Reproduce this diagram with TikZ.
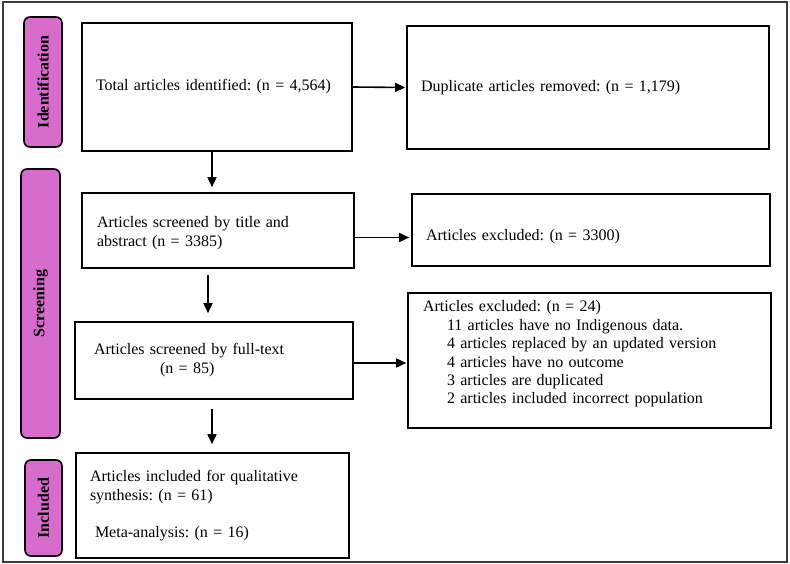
\documentclass[tikz,border=0pt]{standalone}
\usepackage{fontspec}
\setmainfont{Liberation Serif}
\usetikzlibrary{arrows.meta,calc}
\definecolor{stagefill}{RGB}{216,108,204}
\definecolor{framegray}{RGB}{60,60,60}
\frenchspacing
\begin{document}
\begin{tikzpicture}[x=1pt,y=-1pt,
  every node/.style={font=\fontsize{16}{19}\selectfont},
  flowbox/.style={draw=black,line width=1.6pt,fill=white,rectangle,align=left,inner ysep=0pt},
  stage/.style={draw=black,line width=1.6pt,fill=stagefill,rounded corners=6pt,rotate=90,
    font=\fontsize{16}{19}\selectfont\bfseries,inner sep=0pt},
  flowarrow/.style={line width=1.6pt,-{Triangle[length=10pt,width=9pt]}}]
\useasboundingbox (0,0) rectangle (790,564);
\draw[framegray,line width=1.6pt] (3,2) rectangle (787,562);

% stage labels
\node[stage,minimum width=130pt,minimum height=38pt] (labId) at (43,82) {Identification};
\node[stage,minimum width=269pt,minimum height=39pt] (labScr) at (40.5,303.5) {Screening};
\node[stage,minimum width=96pt,minimum height=37pt] (labInc) at (43.5,508) {Included};

% boxes
\node[flowbox,inner xsep=14pt,text width=242pt,minimum height=128pt] (box1) at (217,87)
  {Total articles identified: (n = 4,564)};
\node[flowbox,inner xsep=14pt,text width=334pt,minimum height=123pt] (box2) at (588,87.5)
  {Duplicate articles removed: (n = 1,179)};
\node[flowbox,inner xsep=15pt,text width=242pt,minimum height=75pt,text height=16pt] (titlebox) at (218,230.5)
  {Articles screened by title and\\abstract (n = 3385)};
\node[flowbox,inner xsep=14pt,text width=330pt,minimum height=72pt,text height=25pt,text depth=3.5pt] (exc1) at (591,230)
  {Articles excluded: (n = 3300)};
\node[flowbox,inner xsep=19pt,text width=240pt,minimum height=77pt] (fullbox) at (214,360.5)
  {Articles screened by full-text\\\hspace*{66pt}(n = 85)};
\node[flowbox,inner xsep=15pt,text width=333pt,minimum height=135pt,
  text height=12pt,text depth=110pt,
  font=\fontsize{16}{18.5}\selectfont] (exc2) at (589.5,360.5)
  {Articles excluded: (n = 24)\\
   \hspace*{24pt}11 articles have no Indigenous data.\\
   \hspace*{24pt}4 articles replaced by an updated version\\
   \hspace*{24pt}4 articles have no outcome\\
   \hspace*{24pt}3 articles are duplicated\\
   \hspace*{24pt}2 articles included incorrect population};
\node[flowbox,inner xsep=14pt,text width=245pt,minimum height=105pt] (incbox) at (212.5,505.5)
  {Articles included for qualitative\\synthesis: (n = 61)\\[18pt]\hspace*{5pt}Meta-analysis: (n = 16)};

% vertical arrows
\coordinate (v1) at ([xshift=-5pt]box1.south);
\draw[flowarrow,shorten >=5pt] (v1) -- (v1 |- titlebox.north);
\coordinate (v2) at ([xshift=-10pt]titlebox.south);
\draw[flowarrow,shorten <=6pt,shorten >=8pt] (v2) -- (v2 |- fullbox.north);
\coordinate (v3) at ([xshift=-2pt]fullbox.south);
\draw[flowarrow,shorten <=9pt,shorten >=8pt] (v3) -- (v3 |- incbox.north);

% horizontal arrows
\draw[flowarrow,shorten >=1pt] (box1.east) -- (box2.west);
\coordinate (h2) at ([yshift=-7pt]titlebox.east);
\draw[flowarrow,shorten >=2pt] (h2) -- (h2 -| exc1.west);
\coordinate (h3) at ([yshift=-2.5pt]fullbox.east);
\draw[flowarrow,shorten >=1pt] (h3) -- (h3 -| exc2.west);
\end{tikzpicture}
\end{document}
